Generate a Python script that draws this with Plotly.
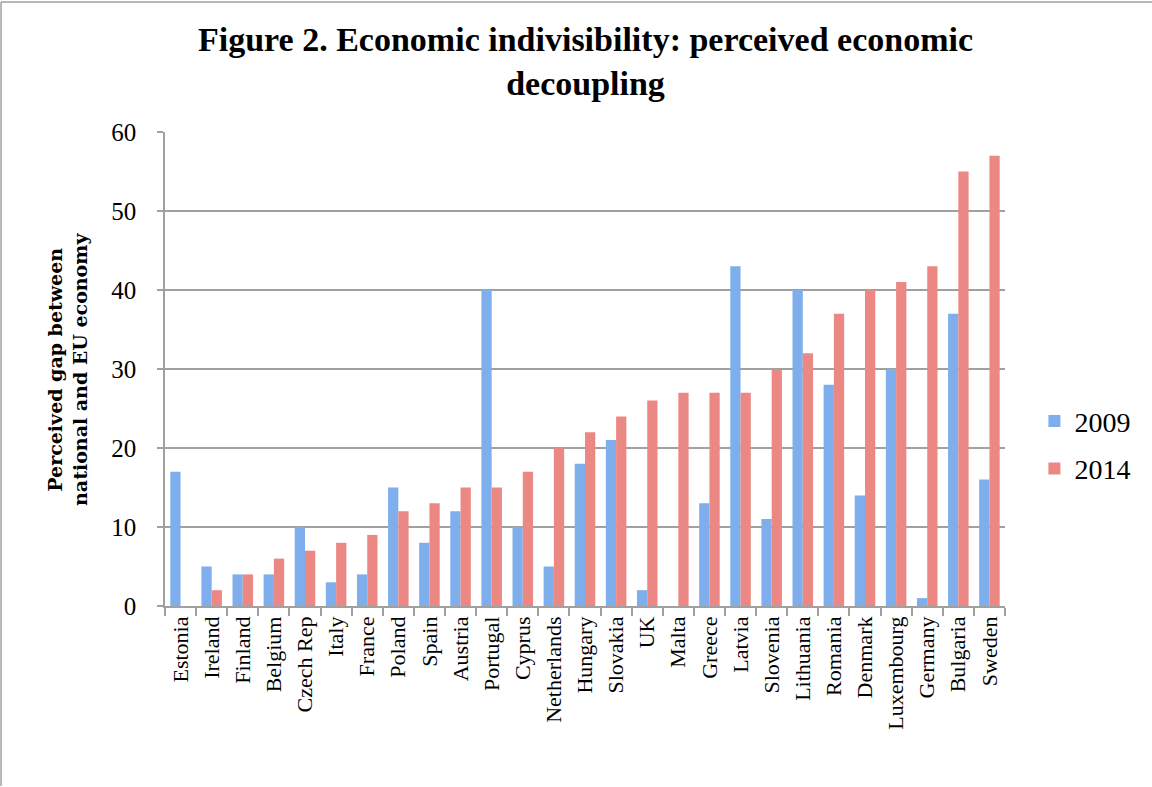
import plotly.graph_objects as go

countries = ["Estonia", "Ireland", "Finland", "Belgium", "Czech Rep", "Italy", "France",
             "Poland", "Spain", "Austria", "Portugal", "Cyprus", "Netherlands", "Hungary",
             "Slovakia", "UK", "Malta", "Greece", "Latvia", "Slovenia", "Lithuania",
             "Romania", "Denmark", "Luxembourg", "Germany", "Bulgaria", "Sweden"]
v2009 = [17, 5, 4, 4, 10, 3, 4, 15, 8, 12, 40, 10, 5, 18, 21, 2, None, 13, 43, 11, 40,
         28, 14, 30, 1, 37, 16]
v2014 = [None, 2, 4, 6, 7, 8, 9, 12, 13, 15, 15, 17, 20, 22, 24, 26, 27, 27, 27, 30, 32,
         37, 40, 41, 43, 55, 57]
y_ticks = [0, 10, 20, 30, 40, 50, 60]

serif = "Liberation Serif, DejaVu Serif, serif"

fig = go.Figure()
fig.add_trace(go.Bar(name="2009", x=countries, y=v2009, legendgroup="a",
                     marker=dict(color="#7eaeec", line=dict(width=0))))
fig.add_trace(go.Bar(name="2014", x=countries, y=v2014, legendgroup="b",
                     marker=dict(color="#ec8884", line=dict(width=0))))

fig.update_layout(
    width=1152, height=787,
    paper_bgcolor="white", plot_bgcolor="white",
    barmode="group", bargap=0.34, bargroupgap=0,
    margin=dict(l=165, r=147, t=132, b=181),
    legend=dict(x=1.035, xanchor="left", y=0.34, yanchor="middle",
                font=dict(family=serif, size=28, color="black"),
                tracegroupgap=8, itemwidth=30),
    font=dict(family=serif, color="black"),
)
fig.update_xaxes(
    type="category", tickangle=-90, tickson="boundaries",
    ticks="outside", ticklen=8, tickcolor="#a0a0a0", tickwidth=1.5,
    showline=True, linecolor="#a0a0a0", linewidth=1.5,
    tickfont=dict(family=serif, size=22, color="black"),
    showgrid=False,
)
fig.update_yaxes(
    range=[0, 60], tickvals=y_ticks, ticktext=[str(t) for t in y_ticks],
    ticks="outside", ticklen=6, tickcolor="#a0a0a0", tickwidth=1.5,
    ticklabelstandoff=16,
    showline=True, linecolor="#a0a0a0", linewidth=1.5,
    showgrid=True, gridcolor="#a0a0a0", gridwidth=1.5,
    tickfont=dict(family=serif, size=25, color="black"),
    zeroline=False,
)
fig.add_annotation(text="<b>Figure 2. Economic indivisibility: perceived economic<br>decoupling</b>",
                   xref="paper", yref="paper", x=0.5, y=1.1477, showarrow=False,
                   xanchor="center", yanchor="middle",
                   font=dict(family=serif, size=34, color="black"))
fig.add_annotation(text="<b>Perceived gap between<br>national and EU economy</b>",
                   xref="paper", yref="paper", x=-0.1167, y=0.5, textangle=-90,
                   showarrow=False, xanchor="center", yanchor="middle",
                   font=dict(family="DejaVu Serif, serif", size=19, color="black"))
fig.add_shape(type="line", xref="paper", yref="paper", x0=-0.1952, x1=-0.1952, y0=-0.38, y1=1.2743,
              line=dict(color="#a0a0a0", width=1.5))
fig.add_shape(type="line", xref="paper", yref="paper", x0=-0.1952, x1=1.18, y0=1.2743, y1=1.2743,
              line=dict(color="#a0a0a0", width=1.5))
fig.write_html("out.html", config={"displayModeBar": False},
               post_script="document.body.style.margin='0';")
